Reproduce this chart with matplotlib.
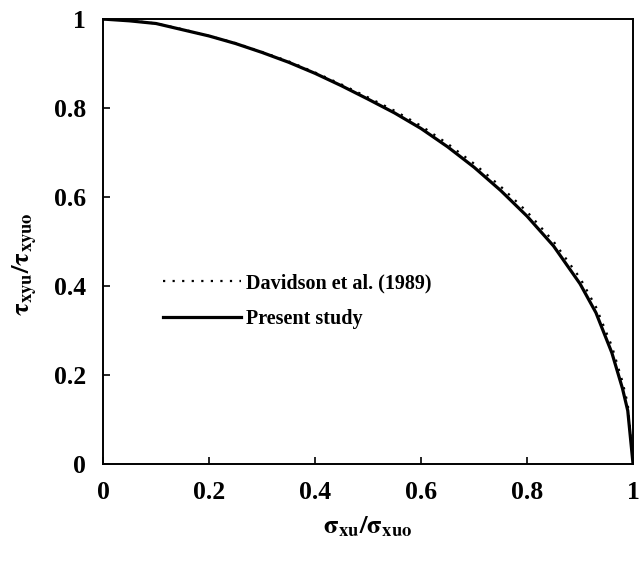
import matplotlib
matplotlib.use("Agg")
import matplotlib.pyplot as plt

x_present = [0, 0.05, 0.1, 0.15, 0.2, 0.25, 0.3, 0.35, 0.4, 0.45, 0.5, 0.55, 0.6, 0.65,
             0.7, 0.75, 0.8, 0.85, 0.9, 0.93, 0.96, 0.98, 0.99, 1.0]
y_present = [1.0, 0.996, 0.99, 0.976, 0.962, 0.945, 0.925, 0.903, 0.878, 0.85, 0.82, 0.789,
             0.754, 0.713, 0.667, 0.615, 0.557, 0.49, 0.405, 0.34, 0.25, 0.17, 0.12, 0.0]

x_davidson = [0, 0.05, 0.1, 0.15, 0.2, 0.25, 0.3, 0.35, 0.4, 0.45, 0.5, 0.55, 0.6, 0.65,
              0.7, 0.75, 0.8, 0.85, 0.9, 0.93, 0.96, 0.98, 0.99, 1.0]
y_davidson = [1.0, 0.997, 0.99, 0.977, 0.962, 0.946, 0.926, 0.905, 0.88, 0.853, 0.824, 0.794,
              0.76, 0.72, 0.675, 0.624, 0.567, 0.5, 0.418, 0.353, 0.265, 0.185, 0.135, 0.0]

xticks = [0, 0.2, 0.4, 0.6, 0.8, 1]
yticks = [0, 0.2, 0.4, 0.6, 0.8, 1]
tick_labels = ["0", "0.2", "0.4", "0.6", "0.8", "1"]

plt.rcParams["font.family"] = ["Liberation Serif", "DejaVu Serif"]
plt.rcParams["mathtext.fontset"] = "stix"

fig = plt.figure(figsize=(6.44, 5.69), dpi=100)
ax = fig.add_axes([0.160, 0.1845, 0.823, 0.782])

ax.plot(x_davidson, y_davidson, color="black", linestyle=(0, (1, 3.3)), linewidth=1.6,
        label="Davidson et al. (1989)")
ax.plot(x_present, y_present, color="black", linestyle="-", linewidth=2.3,
        label="Present study")

ax.set_xlim(0, 1)
ax.set_ylim(0, 1)
ax.set_xticks(xticks)
ax.set_xticklabels(tick_labels, fontweight="bold")
ax.set_yticks(yticks)
ax.set_yticklabels(tick_labels, fontweight="bold")
ax.tick_params(direction="in", length=5, width=1.2, labelsize=18.5,
               top=False, right=False)
ax.tick_params(axis="y", pad=12)
ax.tick_params(axis="x", pad=12)
for s in ax.spines.values():
    s.set_linewidth(1.4)

ax.set_xlabel(r"$\mathbf{\sigma_{xu}/\sigma_{xuo}}$", fontsize=19, labelpad=8)
ax.set_ylabel(r"$\mathbf{\tau_{xyu}/\tau_{xyuo}}$", fontsize=19)
ax.yaxis.set_label_coords(-0.118, 0.45)

leg = ax.legend(loc="upper left", bbox_to_anchor=(0.078, 0.47), frameon=False,
                prop={"size": 14.5, "weight": "bold"}, handlelength=3.9,
                handletextpad=0.25, labelspacing=0.8)

fig.savefig("out.png", dpi=100)
